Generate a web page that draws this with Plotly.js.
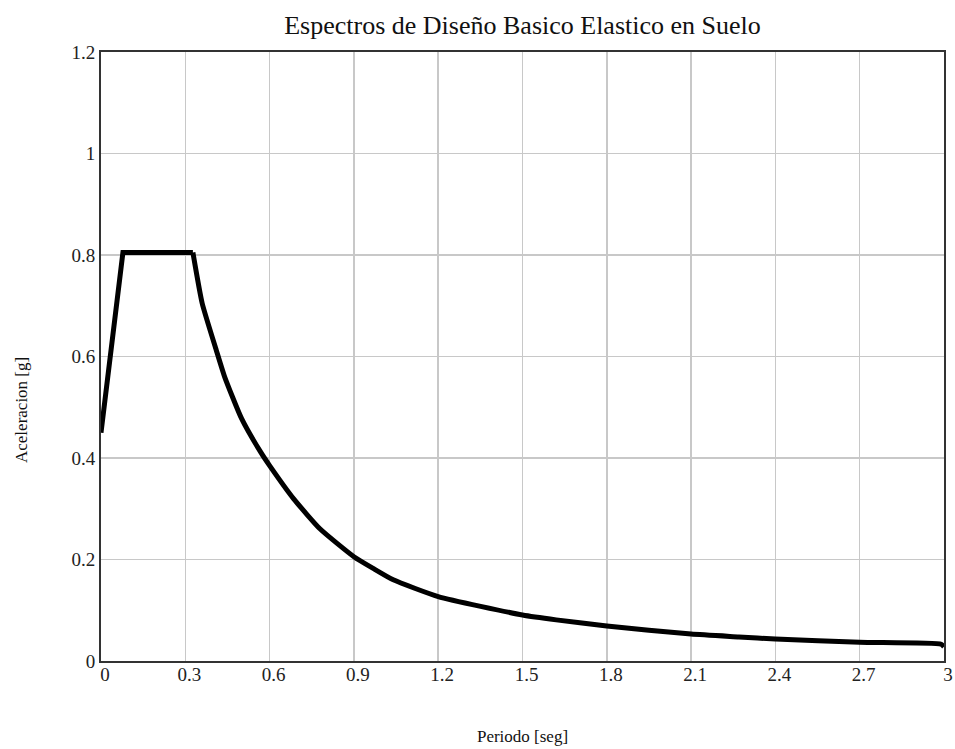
<!DOCTYPE html>
<html>
<head>
<meta charset="utf-8">
<script src="https://cdn.plot.ly/plotly-3.0.1.min.js"></script>
<style>html,body{margin:0;padding:0;background:#fff;}#chart{width:955px;height:749px;}</style>
</head>
<body>
<div id="chart"></div>
<script>
// Period T [s]
const periodo = [0, 0.078, 0.327, 0.36, 0.41, 0.44, 0.5, 0.57, 0.6, 0.685, 0.78, 0.9, 0.97, 1.04, 1.2, 1.5, 1.62, 1.8, 2.1, 2.27, 2.4, 2.7, 2.99, 3.0];
// Spectral acceleration [g]
const aceleracion = [0.45, 0.805, 0.805, 0.705, 0.613, 0.56, 0.478, 0.41, 0.385, 0.32, 0.26, 0.2055, 0.182, 0.16, 0.127, 0.0906, 0.081, 0.069, 0.053, 0.0475, 0.0433, 0.0368, 0.033, 0.028];
// index where the plateau ends (rising branch + plateau drawn straight, decay drawn smooth)
const plateauEnd = 2;

const serif = '"Liberation Serif", "Times New Roman", serif';
const lineStyle = {color: '#000000', width: 5};
const traces = [
  {x: periodo.slice(0, plateauEnd + 1), y: aceleracion.slice(0, plateauEnd + 1), type: 'scatter', mode: 'lines',
   line: Object.assign({shape: 'linear'}, lineStyle), hoverinfo: 'skip'},
  {x: periodo.slice(plateauEnd), y: aceleracion.slice(plateauEnd), type: 'scatter', mode: 'lines',
   line: Object.assign({shape: 'spline', smoothing: 0.5}, lineStyle), hoverinfo: 'skip'}
];
const layout = {
  width: 955, height: 749,
  margin: {l: 101, r: 11, t: 52, b: 88},
  paper_bgcolor: '#ffffff', plot_bgcolor: '#ffffff',
  showlegend: false,
  font: {family: serif, color: '#222222', size: 18},
  title: {text: 'Espectros de Diseño Basico Elastico en Suelo', font: {family: serif, size: 26, color: '#111111'},
          x: 0.5, xref: 'paper', y: 1 - 25/749, yref: 'container', yanchor: 'middle'},
  xaxis: {
    range: [0, 3], tick0: 0, dtick: 0.3, showgrid: true, gridcolor: '#c8c8c8', gridwidth: 1.5,
    zeroline: false, showline: true, mirror: true, linecolor: '#333333', linewidth: 2,
    ticks: '', tickfont: {family: serif, size: 19, color: '#222222'},
    ticklabelshift: 4, ticklabelstandoff: -5,
    title: {text: 'Periodo [seg]', font: {family: serif, size: 17, color: '#111111'}, standoff: 46}
  },
  yaxis: {
    range: [0, 1.2], tick0: 0, dtick: 0.2, showgrid: true, gridcolor: '#c8c8c8', gridwidth: 1.5,
    zeroline: false, showline: true, mirror: true, linecolor: '#333333', linewidth: 2,
    ticks: '', tickfont: {family: serif, size: 19, color: '#222222'}
  },
  annotations: [{
    text: 'Aceleracion [g]', textangle: -90, showarrow: false,
    xref: 'paper', yref: 'paper', x: (22 - 101) / 843, y: (661 - 410) / 609,
    xanchor: 'center', yanchor: 'middle',
    font: {family: serif, size: 17, color: '#111111'}
  }]
};
Plotly.newPlot('chart', traces, layout, {displayModeBar: false, staticPlot: true});
</script>
</body>
</html>
